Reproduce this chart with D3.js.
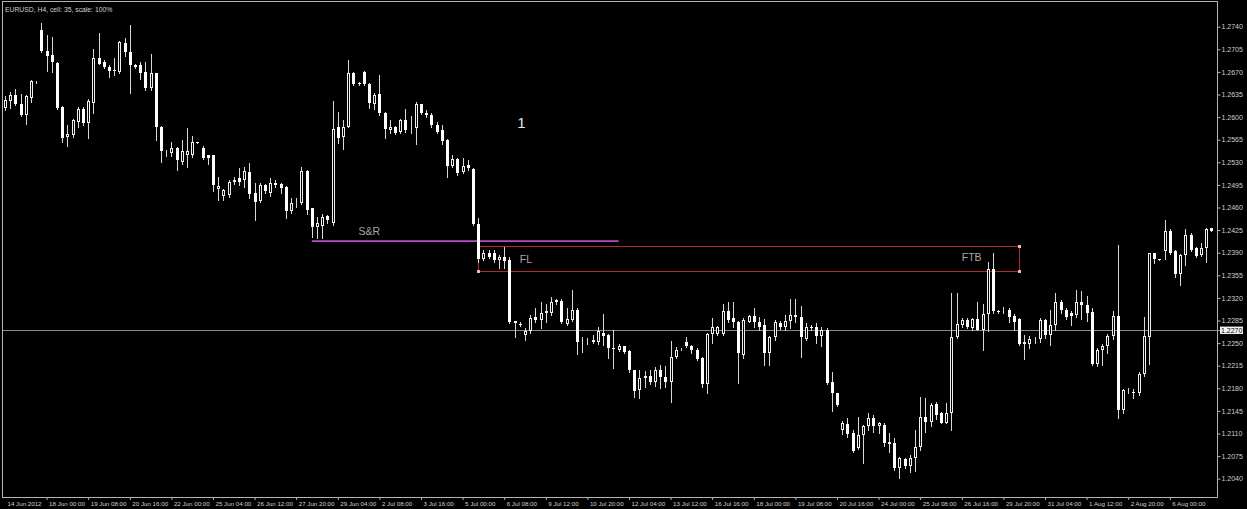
<!DOCTYPE html>
<html><head><meta charset="utf-8">
<script src="https://cdn.jsdelivr.net/npm/d3@7"></script>
<style>html,body{margin:0;padding:0;background:#000;overflow:hidden}svg{display:block}</style>
</head><body>
<svg id="c" width="1247" height="509"></svg>
<script>
const opens = [1.2614,1.2625,1.2634,1.2620,1.2603,1.2629,1.2654,1.2735,1.2702,1.2696,
1.2684,1.2616,1.2569,1.2573,1.2593,1.2612,1.2591,1.2622,1.2692,1.2686,
1.2678,1.2673,1.2670,1.2715,1.2701,1.2681,1.2680,1.2670,1.2645,1.2668,
1.2585,1.2546,1.2545,1.2552,1.2531,1.2541,1.2541,1.2561,1.2552,1.2541,
1.2541,1.2489,1.2478,1.2479,1.2500,1.2506,1.2503,1.2515,1.2483,1.2470,
1.2495,1.2482,1.2498,1.2496,1.2492,1.2454,1.2467,1.2467,1.2517,1.2459,
1.2430,1.2432,1.2447,1.2436,1.2584,1.2569,1.2585,1.2669,1.2653,1.2670,
1.2652,1.2621,1.2636,1.2607,1.2580,1.2585,1.2577,1.2596,1.2581,1.2583,
1.2620,1.2607,1.2604,1.2588,1.2580,1.2565,1.2524,1.2535,1.2515,1.2526,
1.2519,1.2434,1.2381,1.2389,1.2389,1.2378,1.2383,1.2379,1.2284,1.2280,
1.2263,1.2268,1.2290,1.2286,1.2296,1.2296,1.2313,1.2315,1.2280,1.2286,
1.2302,1.2251,1.2252,1.2252,1.2251,1.2265,1.2263,1.2243,1.2239,1.2245,
1.2237,1.2208,1.2178,1.2196,1.2199,1.2190,1.2208,1.2198,1.2190,1.2229,
1.2240,1.2251,1.2246,1.2239,1.2227,1.2187,1.2264,1.2264,1.2264,1.2299,
1.2289,1.2283,1.2232,1.2283,1.2292,1.2282,1.2278,1.2234,1.2260,1.2281,
1.2275,1.2285,1.2291,1.2290,1.2257,1.2275,1.2275,1.2261,1.2271,1.2189,
1.2173,1.2116,1.2125,1.2111,1.2087,1.2108,1.2121,1.2134,1.2121,1.2123,
1.2094,1.2095,1.2056,1.2070,1.2059,1.2072,1.2089,1.2135,1.2128,1.2156,
1.2141,1.2127,1.2142,1.2259,1.2278,1.2286,1.2273,1.2287,1.2271,1.2295,
1.2364,1.2299,1.2299,1.2301,1.2292,1.2287,1.2248,1.2248,1.2256,1.2256,
1.2286,1.2263,1.2278,1.2314,1.2302,1.2296,1.2294,1.2314,1.2309,1.2298,
1.2217,1.2239,1.2245,1.2261,1.2292,1.2146,1.2176,1.2175,1.2173,1.2202,
1.2259,1.2389,1.2380,1.2393,1.2424,1.2392,1.2357,1.2386,1.2417,1.2397,
1.2386,1.2398,1.2428];
const highs = [1.2633,1.2639,1.2644,1.2636,1.2634,1.2658,1.2656,1.2746,1.2727,1.2724,
1.2686,1.2617,1.2588,1.2597,1.2615,1.2615,1.2628,1.2705,1.2730,1.2689,
1.2681,1.2691,1.2718,1.2722,1.2743,1.2683,1.2686,1.2686,1.2698,1.2669,
1.2586,1.2549,1.2562,1.2553,1.2565,1.2583,1.2570,1.2562,1.2555,1.2542,
1.2542,1.2508,1.2488,1.2502,1.2507,1.2521,1.2523,1.2529,1.2498,1.2498,
1.2496,1.2505,1.2503,1.2498,1.2493,1.2474,1.2474,1.2522,1.2518,1.2460,
1.2446,1.2450,1.2448,1.2625,1.2608,1.2596,1.2689,1.2670,1.2654,1.2672,
1.2653,1.2637,1.2665,1.2608,1.2596,1.2586,1.2597,1.2613,1.2601,1.2624,
1.2621,1.2611,1.2606,1.2593,1.2588,1.2566,1.2541,1.2536,1.2536,1.2534,
1.2521,1.2443,1.2394,1.2394,1.2394,1.2387,1.2399,1.2384,1.2285,1.2282,
1.2273,1.2294,1.2304,1.2314,1.2311,1.2321,1.2319,1.2318,1.2304,1.2332,
1.2304,1.2260,1.2258,1.2263,1.2275,1.2295,1.2264,1.2270,1.2248,1.2246,
1.2239,1.2209,1.2208,1.2207,1.2208,1.2213,1.2216,1.2214,1.2254,1.2244,
1.2242,1.2259,1.2247,1.2242,1.2228,1.2266,1.2289,1.2277,1.2311,1.2314,
1.2314,1.2285,1.2289,1.2294,1.2304,1.2290,1.2287,1.2261,1.2286,1.2284,
1.2294,1.2319,1.2318,1.2307,1.2281,1.2278,1.2281,1.2275,1.2273,1.2206,
1.2173,1.2130,1.2134,1.2115,1.2135,1.2123,1.2141,1.2139,1.2128,1.2127,
1.2111,1.2103,1.2074,1.2072,1.2077,1.2116,1.2166,1.2165,1.2158,1.2159,
1.2144,1.2157,1.2327,1.2328,1.2289,1.2289,1.2289,1.2314,1.2311,1.2376,
1.2389,1.2301,1.2306,1.2304,1.2295,1.2289,1.2263,1.2261,1.2260,1.2289,
1.2287,1.2301,1.2327,1.2317,1.2304,1.2299,1.2333,1.2330,1.2323,1.2304,
1.2242,1.2248,1.2264,1.2300,1.2402,1.2179,1.2181,1.2179,1.2206,1.2291,
1.2390,1.2390,1.2381,1.2441,1.2426,1.2394,1.2388,1.2426,1.2421,1.2399,
1.2405,1.2429,1.2429];
const lows = [1.2611,1.2614,1.2619,1.2601,1.2590,1.2624,1.2653,1.2701,1.2671,1.2670,
1.2612,1.2562,1.2555,1.2569,1.2585,1.2587,1.2567,1.2606,1.2682,1.2676,
1.2662,1.2665,1.2668,1.2694,1.2637,1.2676,1.2659,1.2642,1.2642,1.2565,
1.2531,1.2539,1.2539,1.2518,1.2527,1.2522,1.2538,1.2560,1.2535,1.2527,
1.2485,1.2472,1.2472,1.2477,1.2496,1.2495,1.2492,1.2474,1.2441,1.2469,
1.2482,1.2478,1.2492,1.2482,1.2443,1.2452,1.2461,1.2465,1.2450,1.2415,
1.2412,1.2412,1.2436,1.2433,1.2560,1.2550,1.2584,1.2650,1.2650,1.2650,
1.2614,1.2612,1.2603,1.2567,1.2575,1.2574,1.2576,1.2577,1.2576,1.2558,
1.2605,1.2600,1.2585,1.2575,1.2559,1.2508,1.2522,1.2510,1.2513,1.2518,
1.2433,1.2376,1.2379,1.2382,1.2376,1.2366,1.2366,1.2281,1.2260,1.2276,
1.2255,1.2266,1.2283,1.2273,1.2283,1.2294,1.2311,1.2281,1.2278,1.2285,
1.2233,1.2236,1.2248,1.2250,1.2249,1.2247,1.2227,1.2212,1.2238,1.2234,
1.2206,1.2167,1.2165,1.2182,1.2187,1.2183,1.2180,1.2182,1.2159,1.2227,
1.2239,1.2244,1.2234,1.2224,1.2182,1.2172,1.2250,1.2263,1.2263,1.2283,
1.2275,1.2188,1.2227,1.2282,1.2275,1.2270,1.2216,1.2216,1.2255,1.2272,
1.2271,1.2274,1.2283,1.2228,1.2255,1.2270,1.2250,1.2245,1.2187,1.2145,
1.2152,1.2109,1.2105,1.2082,1.2086,1.2065,1.2116,1.2113,1.2110,1.2091,
1.2082,1.2054,1.2041,1.2057,1.2051,1.2052,1.2085,1.2113,1.2121,1.2132,
1.2126,1.2126,1.2116,1.2258,1.2275,1.2273,1.2270,1.2270,1.2239,1.2268,
1.2296,1.2297,1.2296,1.2283,1.2270,1.2247,1.2225,1.2243,1.2250,1.2252,
1.2258,1.2247,1.2270,1.2296,1.2288,1.2278,1.2290,1.2288,1.2285,1.2216,
1.2215,1.2216,1.2235,1.2256,1.2134,1.2141,1.2172,1.2165,1.2170,1.2199,
1.2217,1.2374,1.2378,1.2381,1.2388,1.2352,1.2340,1.2371,1.2393,1.2383,
1.2385,1.2375,1.2423];
const closes = [1.2627,1.2634,1.2621,1.2603,1.2632,1.2656,1.2655,1.2702,1.2695,1.2685,
1.2614,1.2567,1.2574,1.2596,1.2612,1.2591,1.2625,1.2691,1.2683,1.2677,
1.2672,1.2671,1.2717,1.2701,1.2681,1.2678,1.2669,1.2645,1.2669,1.2584,
1.2547,1.2548,1.2552,1.2534,1.2548,1.2548,1.2562,1.2561,1.2536,1.2536,
1.2495,1.2494,1.2487,1.2500,1.2502,1.2500,1.2516,1.2481,1.2469,1.2495,
1.2485,1.2498,1.2495,1.2490,1.2454,1.2467,1.2469,1.2517,1.2456,1.2430,
1.2436,1.2446,1.2440,1.2582,1.2568,1.2585,1.2669,1.2652,1.2651,1.2651,
1.2622,1.2634,1.2606,1.2581,1.2584,1.2576,1.2596,1.2580,1.2583,1.2620,
1.2606,1.2603,1.2588,1.2577,1.2563,1.2524,1.2535,1.2513,1.2524,1.2521,
1.2434,1.2381,1.2390,1.2384,1.2379,1.2383,1.2377,1.2283,1.2281,1.2279,
1.2269,1.2289,1.2286,1.2296,1.2299,1.2314,1.2317,1.2282,1.2288,1.2302,
1.2252,1.2253,1.2253,1.2255,1.2268,1.2261,1.2242,1.2242,1.2246,1.2236,
1.2208,1.2176,1.2196,1.2199,1.2189,1.2208,1.2197,1.2190,1.2229,1.2240,
1.2241,1.2245,1.2239,1.2225,1.2187,1.2264,1.2275,1.2275,1.2299,1.2286,
1.2283,1.2234,1.2286,1.2292,1.2282,1.2275,1.2235,1.2260,1.2282,1.2275,
1.2285,1.2294,1.2294,1.2259,1.2275,1.2274,1.2261,1.2271,1.2188,1.2172,
1.2154,1.2127,1.2109,1.2083,1.2108,1.2121,1.2134,1.2121,1.2126,1.2095,
1.2097,1.2056,1.2072,1.2059,1.2072,1.2089,1.2135,1.2128,1.2154,1.2139,
1.2127,1.2142,1.2259,1.2280,1.2286,1.2275,1.2287,1.2271,1.2295,1.2364,
1.2299,1.2298,1.2301,1.2290,1.2283,1.2249,1.2251,1.2257,1.2257,1.2286,
1.2263,1.2278,1.2314,1.2302,1.2290,1.2292,1.2314,1.2309,1.2297,1.2217,
1.2239,1.2246,1.2261,1.2292,1.2146,1.2178,1.2177,1.2173,1.2202,1.2261,
1.2389,1.2380,1.2379,1.2423,1.2390,1.2357,1.2386,1.2417,1.2394,1.2385,
1.2398,1.2426,1.2424];

const xLabels = ["14 Jun 2012","18 Jun 00:00","19 Jun 08:00","20 Jun 16:00","22 Jun 00:00","25 Jun 04:00","26 Jun 12:00","27 Jun 20:00","29 Jun 04:00","2 Jul 08:00","3 Jul 16:00","5 Jul 00:00","6 Jul 08:00","9 Jul 12:00","10 Jul 20:00","12 Jul 04:00","13 Jul 12:00","16 Jul 16:00","18 Jul 00:00","19 Jul 08:00","20 Jul 16:00","24 Jul 00:00","25 Jul 08:00","26 Jul 16:00","29 Jul 20:00","31 Jul 04:00","1 Aug 12:00","2 Aug 20:00","6 Aug 00:00"];
const barsPerLabel = 8;
const yTickValues = [1.2040,1.2075,1.2110,1.2145,1.2180,1.2215,1.2250,1.2285,1.2320,1.2355,1.2390,1.2425,1.2460,1.2495,1.2530,1.2565,1.2600,1.2635,1.2670,1.2705,1.2740];
const bidPrice = 1.2270;
const title = "EURUSD, H4, cell: 35, scale: 100%";
// annotations anchored to bar index / price
const srLine = {from: 59, to: 118, price: 1.2408};
const zoneBox = {from: 91, to: 195, top: 1.2401, bottom: 1.2361};
const notes = [
  {text: "S&R", bar: 68, price: 1.2424, cls: "note"},
  {text: "FL", bar: 99, price: 1.2380, cls: "note"},
  {text: "FTB", bar: 184, price: 1.2383, cls: "note"},
  {text: "1", bar: 98.5, price: 1.2591, cls: "big"}
];

const N = opens.length;
const candles = d3.range(N).map(i => ({i, o: opens[i], h: highs[i], l: lows[i], c: closes[i]}));

const svg = d3.select("#c");
const W = 1247, H = 509;
const plot = {left: 2, top: 1, right: 1217, bottom: 497};

const x = d3.scaleLinear().domain([0, N - 1]).range([5, 1211.4]);
const y = d3.scaleLinear().domain([1.2040, 1.2740]).range([478.7, 26.7]);

svg.append("rect").attr("width", W).attr("height", H).attr("fill", "#000");

const font = "'Liberation Sans', Arial, sans-serif";
const px = v => Math.round(v) + 0.5;

// bid line
svg.append("line")
  .attr("x1", plot.left).attr("x2", plot.right + 3)
  .attr("y1", px(y(bidPrice))).attr("y2", px(y(bidPrice)))
  .attr("stroke", "#8a8a8a").attr("stroke-width", 1);

// zone rectangle (four edges)
const zx1 = px(x(zoneBox.from)), zx2 = px(x(zoneBox.to));
const zy1 = px(y(zoneBox.top)), zy2 = px(y(zoneBox.bottom));
const edges = [[zx1, zy1, zx2, zy1], [zx1, zy2, zx2, zy2], [zx1, zy1, zx1, zy2], [zx2, zy1, zx2, zy2]];
svg.selectAll("line.zone").data(edges).join("line")
  .attr("class", "zone")
  .attr("x1", d => d[0]).attr("y1", d => d[1]).attr("x2", d => d[2]).attr("y2", d => d[3])
  .attr("stroke", "#b02c2c").attr("stroke-width", 1);

// S&R line
svg.append("line")
  .attr("x1", x(srLine.from)).attr("x2", x(srLine.to))
  .attr("y1", y(srLine.price)).attr("y2", y(srLine.price))
  .attr("stroke", "#b84cc8").attr("stroke-width", 1.6);

// candles
const cg = svg.append("g").attr("shape-rendering", "crispEdges");
cg.selectAll("line.wick").data(candles).join("line")
  .attr("class", "wick")
  .attr("x1", d => Math.round(x(d.i)) + 0.5).attr("x2", d => Math.round(x(d.i)) + 0.5)
  .attr("y1", d => Math.round(y(d.h))).attr("y2", d => Math.round(y(d.l)) + 1)
  .attr("stroke", "#d8d8d8").attr("stroke-width", 1);

const bear = candles.filter(d => d.c <= d.o);
const bull = candles.filter(d => d.c > d.o);

cg.selectAll("rect.bear").data(bear).join("rect")
  .attr("class", "bear")
  .attr("x", d => Math.round(x(d.i)) - 1)
  .attr("width", 3)
  .attr("y", d => Math.round(y(d.o)))
  .attr("height", d => Math.max(1, Math.round(y(d.c)) - Math.round(y(d.o))))
  .attr("fill", "#ffffff");

cg.selectAll("rect.bull").data(bull).join("rect")
  .attr("class", "bull")
  .attr("x", d => Math.round(x(d.i)) - 0.5)
  .attr("width", 2)
  .attr("y", d => Math.round(y(d.c)) + 0.5)
  .attr("height", d => Math.max(0, Math.round(y(d.o)) - Math.round(y(d.c)) - 1))
  .attr("fill", "#000").attr("stroke", "#f0f0f0").attr("stroke-width", 1)
  .attr("shape-rendering", "auto");

// zone corner points
const corners = [[zoneBox.from, zoneBox.bottom], [zoneBox.to, zoneBox.top], [zoneBox.to, zoneBox.bottom]];
svg.selectAll("rect.pt").data(corners).join("rect")
  .attr("class", "pt")
  .attr("x", d => Math.round(x(d[0])) - 1).attr("y", d => Math.round(y(d[1])) - 1)
  .attr("width", 3).attr("height", 3).attr("fill", "#f0b4b4");

// notes
svg.selectAll("text.note").data(notes).join("text")
  .attr("x", d => x(d.bar)).attr("y", d => y(d.price))
  .attr("dy", "0.36em")
  .attr("font-family", font)
  .attr("font-size", d => d.cls === "big" ? 15 : 10.5)
  .attr("fill", d => d.cls === "big" ? "#e6e6e6" : "#a8a8a8")
  .text(d => d.text);

// frame
svg.append("rect")
  .attr("x", plot.left + 0.5).attr("y", plot.top + 0.5)
  .attr("width", plot.right - plot.left).attr("height", plot.bottom - plot.top)
  .attr("fill", "none").attr("stroke", "#b4b4b4").attr("stroke-width", 1);

// title
svg.append("text").attr("x", 5).attr("y", 11.5)
  .attr("font-family", font).attr("font-size", 6.8).attr("fill", "#d0d0d0")
  .text(title);

// y axis
const yAxis = d3.axisRight(y).tickValues(yTickValues).tickSize(3).tickPadding(1)
  .tickFormat(d3.format(".4f"));
const ya = svg.append("g").attr("transform", `translate(${plot.right + 0.5},0)`).call(yAxis);
ya.select(".domain").remove();
ya.selectAll("line").attr("stroke", "#b4b4b4");
ya.selectAll("text").attr("font-family", font).attr("font-size", 7).attr("fill", "#cfcfcf");

// bid label
const by = y(bidPrice);
svg.append("rect").attr("x", 1220).attr("y", by - 3.6).attr("width", 23).attr("height", 7.4).attr("fill", "#f4f4f4");
svg.append("text").attr("x", 1221).attr("y", by).attr("dy", "0.35em")
  .attr("font-family", font).attr("font-size", 7).attr("fill", "#000")
  .text(d3.format(".4f")(bidPrice));

// x axis
const xIdx = xLabels.map((_, k) => k * barsPerLabel);
const xAxis = d3.axisBottom(x).tickValues(xIdx).tickSize(2.5).tickPadding(2)
  .tickFormat((d, k) => xLabels[k]);
const xa = svg.append("g").attr("transform", `translate(0,${plot.bottom + 0.5})`).call(xAxis);
xa.select(".domain").remove();
xa.selectAll("line").attr("stroke", "#b4b4b4");
xa.selectAll(".tick").filter((d, k) => k === 0).select("line").remove();
xa.selectAll("text").attr("text-anchor", "start").attr("dx", 2)
  .attr("font-family", font).attr("font-size", 6.2).attr("fill", "#cfcfcf");
</script>
</body></html>
